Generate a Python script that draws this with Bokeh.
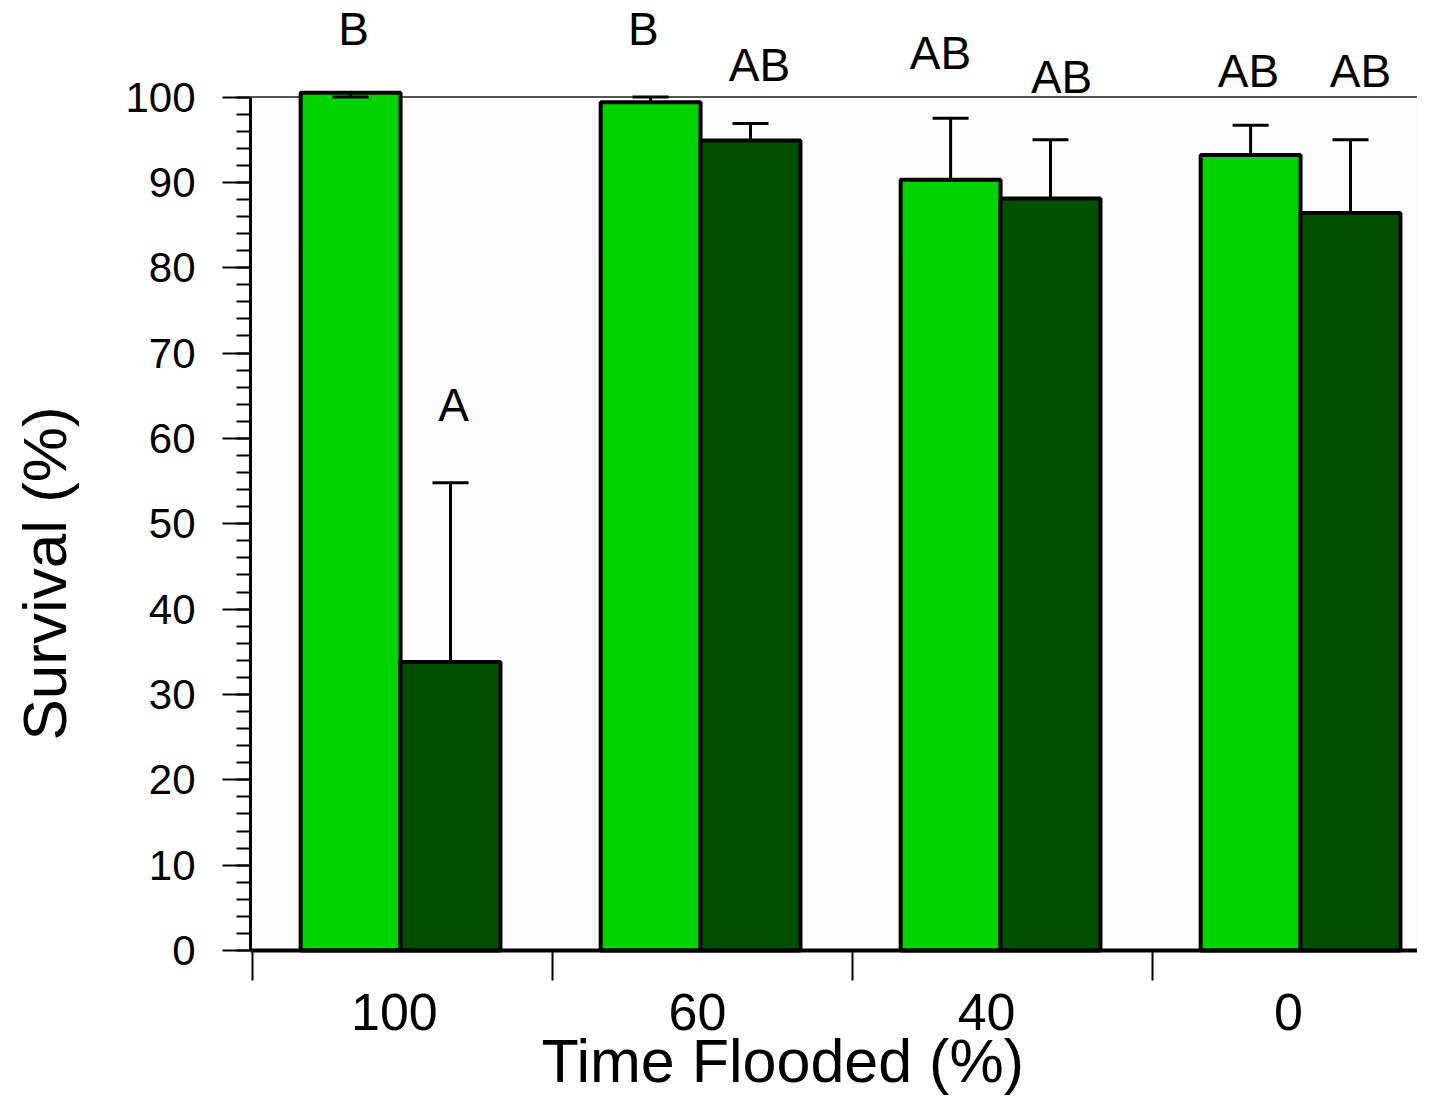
import math
from bokeh.plotting import figure
from bokeh.models import (Range1d, ColumnDataSource, Whisker, TeeHead, FixedTicker,
                          BoxAnnotation)
from bokeh.core.properties import value
from bokeh.embed import file_html
from bokeh.resources import INLINE

# ---- data ----
categories = ["100", "60", "40", "0"]            # Time flooded (%)
light_mean = [100.5, 99.4, 90.3, 93.2]            # light green series
light_upper = [100.0, 100.0, 97.5, 96.7]          # top of error bar
dark_mean = [33.8, 94.9, 88.1, 86.4]              # dark green series
dark_upper = [54.8, 96.9, 95.0, 95.0]
light_letters = ["B", "B", "AB", "AB"]
dark_letters = ["A", "AB", "AB", "AB"]
light_letter_x = [0.337, 1.303, 2.293, 3.320]
light_letter_y = [108.0, 108.0, 105.2, 103.0]
dark_letter_x = [0.670, 1.690, 2.697, 3.693]
dark_letter_y = [63.9, 103.7, 102.3, 103.0]
y_ticks = list(range(0, 101, 10))
y_minor = list(range(0, 101, 2))
x_title = "Time Flooded (%)"
y_title = "Survival (%)"

FONT = "Liberation Sans"
LIGHT = "#00d400"
DARK = "#005000"

idx = list(range(len(categories)))
light_x = [i + 0.327 for i in idx]
dark_x = [i + 0.660 for i in idx]
label_x = [0.473, 1.483, 2.447, 3.453]
X0 = -0.00667          # where the y axis stands
X_END = 3.8833
Y_TOP = 111.31

p = figure(width=1417, height=1095,
           x_range=Range1d(-0.84, X_END), y_range=Range1d(-16.99, Y_TOP),
           min_border=0, min_border_left=0, min_border_right=0,
           min_border_top=0, min_border_bottom=0,
           output_backend="svg", toolbar_location=None)
p.outline_line_color = None
p.background_fill_color = "white"
p.border_fill_color = "white"
p.xgrid.visible = False
p.ygrid.visible = False

# plot-area background and its top edge
p.add_layout(BoxAnnotation(left=X0, bottom=0, top=100, fill_color="#fcfcfc",
                           fill_alpha=1.0, line_color=None, level="underlay"))
p.add_layout(BoxAnnotation(left=X0, bottom=100, top=100, fill_alpha=0,
                           line_color="#555555", line_alpha=1.0, line_width=2,
                           level="underlay"))

light_src = ColumnDataSource(dict(x=light_x, top=light_mean, upper=light_upper,
                                  letter=light_letters, lx=light_letter_x,
                                  ly=light_letter_y))
dark_src = ColumnDataSource(dict(x=dark_x, top=dark_mean, upper=dark_upper,
                                 letter=dark_letters, lx=dark_letter_x,
                                 ly=dark_letter_y))

for src, col in ((light_src, LIGHT), (dark_src, DARK)):
    p.vbar(x="x", top="top", bottom=0, width=0.333, source=src,
           fill_color=col, line_color="black", line_width=4)
    w = Whisker(base="x", lower="top", upper="upper", source=src,
                line_color="black", line_width=3,
                upper_head=TeeHead(size=36, line_width=3, line_color="black"),
                lower_head=None, level="overlay")
    p.add_layout(w)
    p.text(x="lx", y="ly", text="letter", source=src, text_align="center",
           text_baseline="middle", text_font=value(FONT),
           text_font_size="46px", text_color="black")

# y axis
ya = p.yaxis[0]
ya.fixed_location = X0
ya.ticker = FixedTicker(ticks=y_ticks, minor_ticks=y_minor)
ya.bounds = (0, 100)
ya.axis_line_width = 3
ya.axis_line_color = "black"
ya.major_tick_out = 28
ya.major_tick_in = 0
ya.minor_tick_out = 14
ya.minor_tick_in = 0
ya.major_tick_line_width = 2
ya.minor_tick_line_width = 2
ya.major_label_text_font = FONT
ya.major_label_text_font_size = "42px"
ya.major_label_text_color = "black"
ya.major_label_standoff = 27

# x axis
xa = p.xaxis[0]
xa.fixed_location = 0
xa.ticker = FixedTicker(ticks=label_x, minor_ticks=idx)
xa.bounds = (X0, X_END)
xa.major_label_overrides = {lx: c for lx, c in zip(label_x, categories)}
xa.axis_line_width = 4
xa.axis_line_color = "black"
xa.major_tick_out = 0
xa.major_tick_in = 0
xa.minor_tick_out = 30
xa.minor_tick_in = 0
xa.minor_tick_line_width = 2
xa.major_label_text_font = FONT
xa.major_label_text_font_size = "52px"
xa.major_label_text_color = "black"
xa.major_label_standoff = 14

# axis titles
p.text(x=[-0.6933], y=[44.17], text=[y_title], angle=math.pi / 2,
       text_align="center", text_baseline="middle", text_font=value(FONT),
       text_font_size="62px", text_color="black")
p.text(x=[0.9633], y=[-13.0], text=[x_title], text_align="left",
       text_baseline="alphabetic", text_font=value(FONT),
       text_font_size="61px", text_color="black")

open("out.html", "w").write(file_html(p, INLINE))
